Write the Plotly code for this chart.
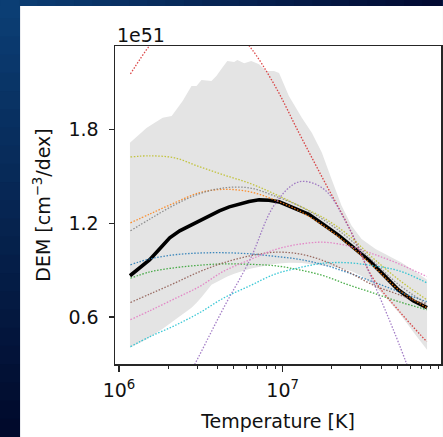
import plotly.graph_objects as go

# ---------------- data (DEM in units of 1e51 cm^-3/dex) ----------------
# common temperature grid for the individual model curves (log10 T [K])
logT = [6.07, 6.19, 6.34, 6.49, 6.64, 6.80, 6.95, 7.10, 7.25, 7.40, 7.55, 7.71, 7.88]

dem_c0 = [0.934, 0.972, 0.998, 1.009, 1.011, 1.004, 0.988, 0.969, 0.934, 0.883, 0.826, 0.762, 0.698]
dem_c1 = [1.202, 1.259, 1.330, 1.394, 1.416, 1.400, 1.349, 1.279, 1.183, 1.065, 0.928, 0.774, 0.660]
dem_c2 = [0.848, 0.889, 0.915, 0.931, 0.940, 0.937, 0.928, 0.902, 0.864, 0.806, 0.755, 0.698, 0.647]
dem_c3 = [2.153, 2.338, 2.511, 2.566, 2.502, 2.327, 2.083, 1.776, 1.476, 1.183, 0.851, 0.640, 0.443]
dem_c4 = [-0.45, -0.25, 0.05, 0.353, 0.660, 0.966, 1.317, 1.464, 1.419, 1.180, 0.832, 0.430, -0.05]
dem_c5 = [0.693, 0.748, 0.817, 0.889, 0.947, 0.991, 1.014, 1.004, 0.960, 0.889, 0.806, 0.743, 0.679]
dem_c6 = [0.583, 0.641, 0.717, 0.794, 0.893, 0.966, 1.030, 1.065, 1.078, 1.055, 1.004, 0.940, 0.859]
dem_c7 = [1.151, 1.227, 1.317, 1.387, 1.425, 1.425, 1.374, 1.311, 1.221, 1.106, 0.960, 0.806, 0.685]
dem_c8 = [1.623, 1.630, 1.617, 1.561, 1.508, 1.454, 1.387, 1.311, 1.234, 1.125, 0.979, 0.838, 0.711]
dem_c9 = [0.411, 0.475, 0.545, 0.626, 0.722, 0.800, 0.873, 0.915, 0.944, 0.947, 0.928, 0.896, 0.819]

model_curves = [dem_c0, dem_c1, dem_c2, dem_c3, dem_c4, dem_c5, dem_c6, dem_c7, dem_c8, dem_c9]

# mean DEM (thick black)
mean_logT = [6.067, 6.128, 6.188, 6.249, 6.310, 6.371, 6.431, 6.492, 6.553, 6.613, 6.674,
             6.735, 6.795, 6.856, 6.917, 6.978, 7.038, 7.099, 7.160, 7.251, 7.342, 7.433,
             7.524, 7.615, 7.706, 7.797, 7.882]
mean_dem = [0.864, 0.915, 0.966, 1.036, 1.106, 1.151, 1.183, 1.215, 1.247, 1.279, 1.304,
            1.323, 1.339, 1.349, 1.346, 1.336, 1.311, 1.282, 1.257, 1.190, 1.122, 1.043,
            0.966, 0.871, 0.774, 0.704, 0.660]

# uncertainty band (grey)
band_logT = [6.067, 6.170, 6.267, 6.322, 6.389, 6.443, 6.474, 6.504, 6.565, 6.595, 6.631,
             6.662, 6.704, 6.723, 6.765, 6.808, 6.856, 6.899, 6.947, 6.978, 7.038, 7.117,
             7.178, 7.239, 7.299, 7.360, 7.421, 7.482, 7.567, 7.646, 7.725, 7.803, 7.882]
band_hi = [1.7145, 1.8102, 1.8740, 1.8849, 1.9806, 2.0763, 2.0763, 2.1146, 2.1082, 2.1401, 2.1931,
           2.2359, 2.2295, 2.2423, 2.2212, 2.2359, 2.2148, 2.1721, 2.1721, 2.1593, 2.0125, 1.8740,
           1.7783, 1.6507, 1.4809, 1.3105, 1.1829, 1.0980, 1.0342, 0.9914, 0.9487, 0.8957, 0.8383]
band_lo = [0.4043, 0.4586, 0.5256, 0.5664, 0.6149, 0.6596, 0.6915, 0.7266, 0.8064, 0.8236, 0.8447,
           0.8587, 0.8766, 0.8842, 0.8976, 0.9098, 0.9212, 0.9302, 0.9385, 0.9423, 0.9468, 0.9449,
           0.9385, 0.9308, 0.9212, 0.9098, 0.8925, 0.8619, 0.7936, 0.7062, 0.6086, 0.4981, 0.3916]

y_tickvals = [0.6, 1.2, 1.8]
y_ticktext = ["0.6", "1.2", "1.8"]
x_tickvals = [1e6, 1e7]
x_ticktext = ["10<sup>6</sup>", "10<sup>7</sup>"]
x_minor = [2e6, 3e6, 4e6, 5e6, 6e6, 7e6, 8e6, 9e6, 2e7, 3e7, 4e7, 5e7, 6e7, 7e7, 8e7, 9e7]

colors = ["#1f77b4", "#ff7f0e", "#2ca02c", "#d62728", "#9467bd",
          "#8c564b", "#e377c2", "#7f7f7f", "#bcbd22", "#17becf"]

# ---------------- figure ----------------
T = [10 ** v for v in logT]
Tm = [10 ** v for v in mean_logT]
Tb = [10 ** v for v in band_logT]

fig = go.Figure()
fig.add_trace(go.Scatter(x=Tb, y=band_hi, mode="lines", line=dict(width=0, color="#e4e4e4"),
                         hoverinfo="skip", showlegend=False))
fig.add_trace(go.Scatter(x=Tb, y=band_lo, mode="lines", line=dict(width=0, color="#e4e4e4"),
                         fill="tonexty", fillcolor="#e4e4e4", hoverinfo="skip", showlegend=False))
fig.add_trace(go.Scatter(x=Tm, y=mean_dem, mode="lines", line=dict(width=3.6, color="black"),
                         showlegend=False))
for c, ys in zip(colors, model_curves):
    fig.add_trace(go.Scatter(x=T, y=ys, mode="lines", opacity=0.85,
                             line=dict(width=1.3, color=c, dash="1.5px,1.6px", shape="spline"),
                             showlegend=False))

W, H = 443, 437
L, R, TOP, B = 115, 0, 46, 73
pw, ph = W - L - R, H - TOP - B


def px2x(px):
    return (px - L) / pw


def py2y(py):
    return (H - B - py) / ph


def mix(c1, c2, t):
    a = [int(c1[i:i + 2], 16) for i in (1, 3, 5)]
    b = [int(c2[i:i + 2], 16) for i in (1, 3, 5)]
    return "#" + "".join("%02x" % round(a[k] + (b[k] - a[k]) * t) for k in range(3))


shapes = []
n = 24
# left strip vertical gradient
for i in range(n):
    y0 = i * H / n
    y1 = (i + 1) * H / n + 1
    shapes.append(dict(type="rect", xref="paper", yref="paper", layer="below",
                       x0=px2x(-1), x1=px2x(19.5), y0=py2y(y1), y1=py2y(y0),
                       line=dict(width=0), fillcolor=mix("#0b3e74", "#010a2c", i / (n - 1))))
# top strip horizontal gradient
for i in range(n):
    x0 = i * W / n
    x1 = (i + 1) * W / n + 1
    shapes.append(dict(type="rect", xref="paper", yref="paper", layer="below",
                       x0=px2x(x0), x1=px2x(x1), y0=py2y(6), y1=py2y(-1),
                       line=dict(width=0), fillcolor=mix("#0b3e74", "#020a32", i / (n - 1))))
# white figure area
shapes.append(dict(type="rect", xref="paper", yref="paper", layer="below",
                   x0=px2x(19.5), x1=px2x(W + 2), y0=py2y(H + 2), y1=py2y(6),
                   line=dict(width=0), fillcolor="white"))

font = dict(family="DejaVu Sans", size=19, color="#111111")

fig.update_layout(
    width=W, height=H,
    margin=dict(l=L, r=R, t=TOP, b=B, pad=0),
    paper_bgcolor="#041a44",
    plot_bgcolor="white",
    font=font,
    shapes=shapes,
    showlegend=False,
    xaxis=dict(type="log", range=[5.9757, 7.9672], showgrid=False, zeroline=False,
               showline=True, linecolor="#262626", linewidth=1.5, mirror=True,
               ticks="outside", ticklen=6, tickwidth=1.3, tickcolor="#262626",
               tickvals=x_tickvals, ticktext=x_ticktext, tickfont=font,
               ticklabelstandoff=3,
               minor=dict(ticks="outside", ticklen=3.5, tickwidth=1, tickcolor="#262626",
                          tickmode="array", tickvals=x_minor, showgrid=False),
               title=dict(text="Temperature [K]", font=font, standoff=14)),
    yaxis=dict(range=[0.300, 2.332], showgrid=False, zeroline=False,
               showline=True, linecolor="#262626", linewidth=1.5, mirror=True,
               ticks="outside", ticklen=5, tickwidth=1.3, tickcolor="#262626",
               tickvals=y_tickvals, ticktext=y_ticktext, tickfont=font,
               ticklabelstandoff=6,
               title=dict(text="DEM [cm<sup>−3</sup>/dex]", font=font, standoff=13)),
    annotations=[dict(text="1e51", xref="paper", yref="paper", x=0, y=1,
                      xanchor="left", yanchor="bottom", showarrow=False, xshift=0,
                      yshift=-2, font=font)],
)

fig.write_html("out.html", config={"displayModeBar": False, "staticPlot": True},
               post_script="document.body.style.margin='0';document.body.style.overflow='hidden';")
